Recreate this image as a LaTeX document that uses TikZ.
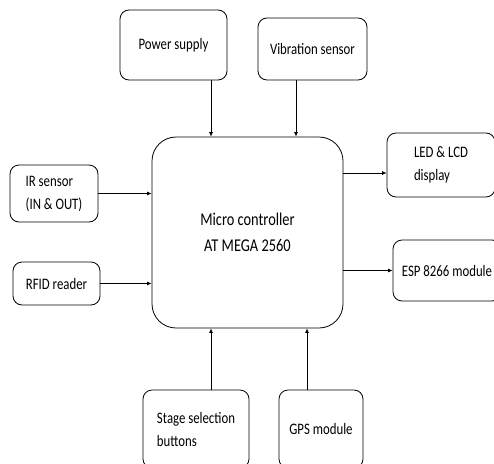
\documentclass[tikz,border=0pt]{standalone}
\usepackage{fontspec}
\setmainfont{Carlito}[FakeStretch=0.8]
\usetikzlibrary{arrows.meta}
\begin{document}
\begin{tikzpicture}[
    x=1pt, y=-1pt,
    block/.style={draw, rounded corners=9pt, line width=0.8pt, align=left,
        font=\fontsize{16}{23}\selectfont},
    mcubox/.style={draw, rounded corners=24pt, line width=0.8pt,
        minimum width=191pt, minimum height=191pt, align=center,
        font=\fontsize{18}{26}\selectfont},
    arr/.style={-{Latex[length=4.5pt,width=4pt]}, line width=0.7pt}
    ]
	\useasboundingbox (0,0) rectangle (494,463);
	\clip (0,0) rectangle (494,463);
	\node [mcubox] (mcu) at (247.5,232.5) {Micro controller\\AT MEGA 2560};
	% inputs
	\node [block, minimum width=107pt, minimum height=70pt] (pwr) at (173.5,45) {Power supply};
	\node [block, minimum width=109pt, minimum height=62pt] (vib) at (312.5,49) {Vibration sensor};
	\node [block, minimum width=88pt, minimum height=57pt] (ir) at (54,193.5) {IR sensor\\(IN \& OUT)};
	\node [block, minimum width=87pt, minimum height=43pt] (rfid) at (56.5,283.5) {RFID reader};
	\node [block, minimum width=106pt, minimum height=78pt] (stage) at (196,429) {Stage selection\\buttons};
	\node [block, minimum width=84pt, minimum height=78pt] (gps) at (321,429) {GPS module};
	% outputs
	\node [block, minimum width=108pt, minimum height=64pt] (led) at (441,165) {LED \& LCD\\display};
	\node [block, minimum width=108pt, minimum height=61pt] (esp) at (447,270.5) {ESP 8266 module};
	\draw [arr] ([xshift=37.5pt]pwr.south) -- ([xshift=37.5pt]pwr.south |- mcu.north);
	\draw [arr] ([xshift=-16.5pt]vib.south) -- ([xshift=-16.5pt]vib.south |- mcu.north);
	\draw [arr] (ir.east) -- (ir.east -| mcu.west);
	\draw [arr] (rfid.east) -- (rfid.east -| mcu.west);
	\draw [arr] ([xshift=15pt]stage.north) -- ([xshift=15pt]stage.north |- mcu.south);
	\draw [arr] ([xshift=-14pt]gps.north) -- ([xshift=-14pt]gps.north |- mcu.south);
	\draw [arr] ([yshift=-8pt]led.west -| mcu.east) -- ([yshift=-8pt]led.west);
	\draw [arr] (esp.west -| mcu.east) -- (esp.west);
\end{tikzpicture}
\end{document}
